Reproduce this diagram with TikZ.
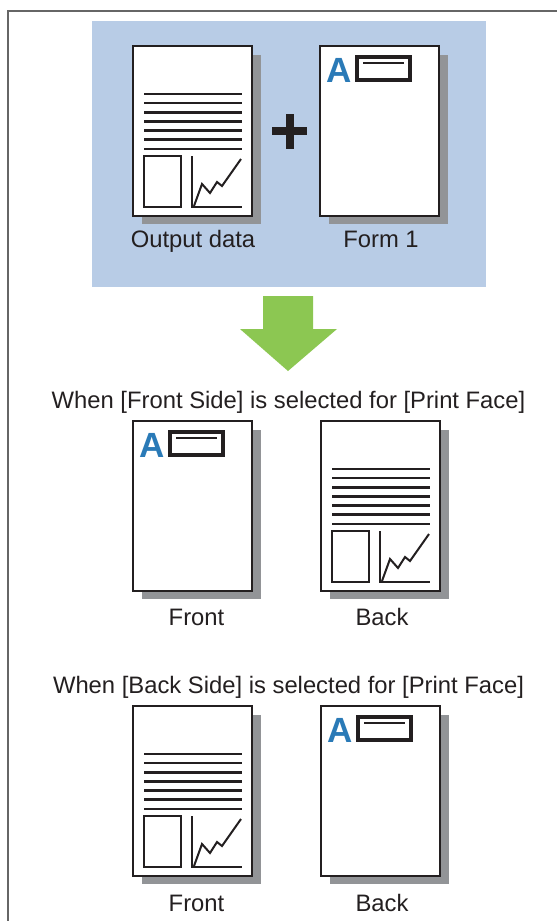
\documentclass[tikz,border=0pt]{standalone}
\usepackage{fontspec}
\setmainfont{Liberation Sans}

\definecolor{panelblue}{HTML}{B8CCE6}
\definecolor{shadowgray}{HTML}{929497}
\definecolor{letterblue}{HTML}{2A7AB7}
\definecolor{arrowgreen}{HTML}{8CC752}
\definecolor{inkblack}{HTML}{231F20}

\tikzset{
  pics/datapage/.style={code={
    \fill[shadowgray] (9,9) rectangle (128,178);
    \draw[inkblack,line width=2.6pt,fill=white] (0,0) rectangle (119,170);
    \foreach \k in {0,...,6}
      \draw[inkblack,line width=2.6pt] (11,{48+9.15*\k}) -- (109,{48+9.15*\k});
    \draw[inkblack,line width=2.6pt] (11,110) rectangle (48,161);
    \draw[inkblack,line width=2.6pt] (59,110) -- (59,161) -- (109,161);
    \draw[inkblack,line width=2pt] (61,160) -- (69,138) -- (77,147) -- (84,136) -- (89,140) -- (108,113);
  }},
  pics/formpage/.style={code={
    \fill[shadowgray] (9,9) rectangle (128,178);
    \draw[inkblack,line width=2.6pt,fill=white] (0,0) rectangle (119,170);
    \node[anchor=base west,inner sep=0pt,text=letterblue,font=\fontsize{35}{35}\selectfont\bfseries] at (6,36) {A};
    \draw[inkblack,line width=3.2pt] (37,11) rectangle (90,34);
    \draw[inkblack,line width=2.6pt] (43,17) -- (84,17);
  }}
}

\begin{document}
\begin{tikzpicture}[x=1pt,y=-1pt,
    every node/.style={font=\fontsize{23.8}{26}\selectfont,text=inkblack},
    caption/.style={anchor=base,inner sep=0pt}]
  \useasboundingbox (0,0) rectangle (557,921);
  % frame
  \draw[gray!80!black,line width=1.2pt] (8,921) -- (8,11) -- (557,11);

  % top panel: output data + form
  \fill[panelblue] (92,21) rectangle (486,287);
  \pic at (133,46) {datapage};
  \pic at (320,46) {formpage};
  \fill[inkblack] (272,127) rectangle (307,135);
  \fill[inkblack] (286,114) rectangle (294,149);
  \node[caption] (outlabel) at (193,247) {Output data};
  \node[caption] (formlabel) at (381,247) {Form 1};

  % arrow
  \fill[arrowgreen] (263,296) -- (313,296) -- (313,329) -- (337,329) -- (288,371) -- (240,329) -- (263,329) -- cycle;

  % front side selected
  \node[caption] (fronttitle) at (288.5,408) {When [Front Side] is selected for [Print Face]};
  \pic at (133,421) {formpage};
  \pic at (321,421) {datapage};
  \node[caption] (frontA) at (196.5,625) {Front};
  \node[caption] (backA) at (382,625) {Back};

  % back side selected
  \node[caption] (backtitle) at (288.5,693) {When [Back Side] is selected for [Print Face]};
  \pic at (133,706) {datapage};
  \pic at (321,706) {formpage};
  \node[caption] (frontB) at (196.5,911) {Front};
  \node[caption] (backB) at (382,911) {Back};
\end{tikzpicture}
\end{document}
